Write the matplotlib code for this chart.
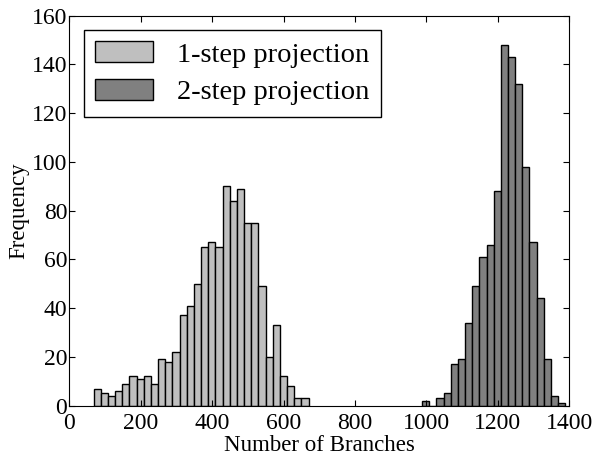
import numpy as np
import matplotlib
matplotlib.use("Agg")
import matplotlib.pyplot as plt

# bin counts (1000 samples each)
one_step_counts = [7, 5, 4, 6, 9, 12, 11, 12, 9, 19, 18, 22, 37, 41, 50,
                   65, 67, 65, 90, 84, 89, 75, 75, 49, 20, 33, 12, 8, 3, 3]
two_step_counts = [2, 0, 3, 5, 17, 19, 34, 49, 61, 66, 88, 148, 143, 132,
                   98, 67, 44, 19, 4, 1]
one_step_start = 68
two_step_start = 988
bin_width = 20.07

plt.rcParams['font.family'] = ['Liberation Serif', 'DejaVu Serif']

fig = plt.figure(figsize=(6.0, 4.61), dpi=100)
ax = fig.add_axes([0.1155, 0.12, 0.833, 0.846])

x1 = one_step_start + bin_width * np.arange(len(one_step_counts))
x2 = two_step_start + bin_width * np.arange(len(two_step_counts))
ax.bar(x1, one_step_counts, width=bin_width, align='edge', color='#bfbfbf',
       edgecolor='black', linewidth=1.0, label='1-step projection')
ax.bar(x2, two_step_counts, width=bin_width, align='edge', color='#808080',
       edgecolor='black', linewidth=1.0, label='2-step projection')

ax.set_xlim(0, 1400)
ax.set_ylim(0, 160)
ax.set_xticks(range(0, 1401, 200))
ax.set_yticks(range(0, 161, 20))
ax.tick_params(direction='in', top=True, right=True, labelsize=17, length=4)
ax.tick_params(axis='x', pad=5.5)
ax.tick_params(axis='y', pad=1.5)
ax.set_xlabel('Number of Branches', fontsize=16.5, labelpad=0.5)
ax.set_ylabel('Frequency', fontsize=16.5, labelpad=2)

leg = ax.legend(loc='upper left', fontsize=20.5, fancybox=False, framealpha=1,
                handlelength=2.05, handleheight=0.74, borderpad=0.4,
                labelspacing=0.4, handletextpad=0.85, borderaxespad=0.5)
leg.get_frame().set_edgecolor('black')
leg.get_frame().set_linewidth(1.0)

fig.savefig('out.png', dpi=100)
